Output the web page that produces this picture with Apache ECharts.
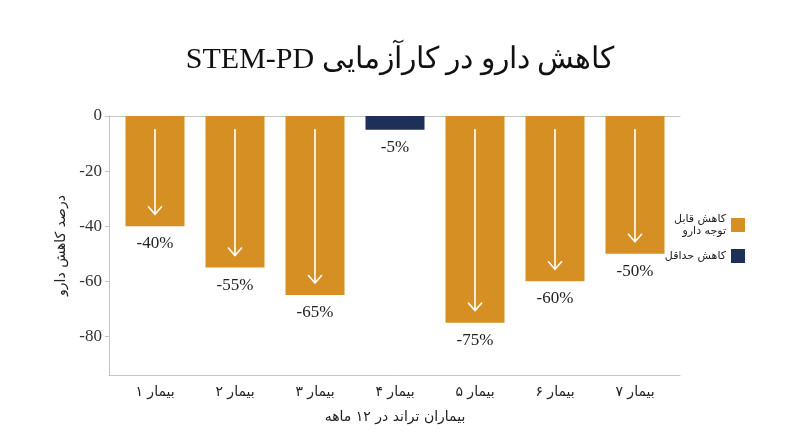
<!DOCTYPE html>
<html>
<head>
<meta charset="utf-8">
<script src="https://cdn.jsdelivr.net/npm/echarts@6/dist/echarts.min.js"></script>
<style>
  html, body { margin: 0; padding: 0; background: #fff; }
  #chart { width: 800px; height: 447px; }
</style>
</head>
<body>
<div id="chart"></div>
<script>
(function () {
    var categories = ['بیمار ۱', 'بیمار ۲', 'بیمار ۳', 'بیمار ۴', 'بیمار ۵', 'بیمار ۶', 'بیمار ۷'];
    // کاهش قابل توجه دارو
    var majorValues = [-40, -55, -65, '-', -75, -60, -50];
    // کاهش حداقل
    var minorValues = ['-', '-', '-', -5, '-', '-', '-'];
    var yTicks = [0, -20, -40, -60, -80];

    var majorName = 'کاهش قابل توجه دارو';
    var minorName = 'کاهش حداقل';
    var orange = '#D68F23';
    var navy = '#1D3158';
    var serif = "'Liberation Serif', 'DejaVu Serif', serif";
    var sans = "'DejaVu Sans', sans-serif";

    var chart = echarts.init(document.getElementById('chart'));

    // arrows inside the orange bars
    var arrowData = [];
    for (var i = 0; i < majorValues.length; i++) {
        if (majorValues[i] !== '-') {
            arrowData.push([i, majorValues[i]]);
        }
    }

    var barLabel = {
        show: true,
        position: 'bottom',
        distance: 9,
        formatter: '{c}%',
        fontFamily: serif,
        fontSize: 17,
        color: '#222'
    };

    var frameLine = { show: true, onZero: false, lineStyle: { color: '#c4c4c4', width: 1 } };

    var option = {
        backgroundColor: '#fff',
        animation: false,

        title: {
            text: '\u202B' + 'کاهش دارو در کارآزمایی STEM-PD' + '\u202C',
            left: 'center',
            top: 40,
            textStyle: {
                fontFamily: serif,
                fontSize: 30,
                fontWeight: 'normal',
                color: '#111'
            }
        },

        legend: {
            orient: 'vertical',
            right: 50,
            top: 208,
            align: 'right',
            icon: 'rect',
            itemWidth: 14,
            itemHeight: 14,
            itemGap: 12,
            data: [majorName, minorName],
            formatter: function (name) {
                return name === majorName ? 'کاهش قابل\nتوجه دارو' : name;
            },
            textStyle: {
                fontFamily: sans,
                fontSize: 11,
                lineHeight: 12,
                color: '#222'
            }
        },

        grid: [
            { left: 115, right: 125, top: 116, bottom: 72 },
            { left: 109, right: 120, top: 116, bottom: 72 }
        ],

        xAxis: [
            {
                type: 'category',
                gridIndex: 0,
                data: categories,
                axisLine: { show: false },
                axisTick: { show: false },
                axisLabel: {
                    margin: 10,
                    fontFamily: sans,
                    fontSize: 14,
                    color: '#222'
                },
                name: 'بیماران تراند در ۱۲ ماهه',
                nameLocation: 'middle',
                nameGap: 35,
                nameTextStyle: {
                    fontFamily: sans,
                    fontSize: 14,
                    color: '#222'
                }
            },
            {
                type: 'value',
                gridIndex: 1,
                position: 'bottom',
                min: 0,
                max: 1,
                axisLine: frameLine,
                axisTick: { show: false },
                axisLabel: { show: false },
                splitLine: { show: false }
            },
            {
                type: 'value',
                gridIndex: 1,
                position: 'top',
                min: 0,
                max: 1,
                axisLine: frameLine,
                axisTick: { show: false },
                axisLabel: { show: false },
                splitLine: { show: false }
            }
        ],

        yAxis: [
            {
                type: 'value',
                gridIndex: 0,
                min: -94,
                max: 0,
                show: false
            },
            {
                type: 'value',
                gridIndex: 1,
                min: -94,
                max: 0,
                axisLine: frameLine,
                axisTick: {
                    show: true,
                    length: 4,
                    customValues: yTicks,
                    lineStyle: { color: '#c4c4c4' }
                },
                axisLabel: {
                    customValues: yTicks,
                    margin: 7,
                    fontFamily: serif,
                    fontSize: 17,
                    color: '#333'
                },
                splitLine: { show: false },
                name: 'درصد کاهش دارو',
                nameLocation: 'middle',
                nameGap: 37,
                nameTextStyle: {
                    fontFamily: sans,
                    fontSize: 14,
                    color: '#222'
                }
            }
        ],

        series: [
            {
                name: majorName,
                type: 'bar',
                xAxisIndex: 0,
                yAxisIndex: 0,
                barWidth: 59,
                data: majorValues,
                itemStyle: { color: orange },
                label: barLabel
            },
            {
                name: minorName,
                type: 'bar',
                xAxisIndex: 0,
                yAxisIndex: 0,
                barWidth: 59,
                barGap: '-100%',
                data: minorValues,
                itemStyle: { color: navy },
                label: barLabel
            },
            {
                type: 'custom',
                xAxisIndex: 0,
                yAxisIndex: 0,
                z: 5,
                silent: true,
                data: arrowData,
                renderItem: function (params, api) {
                    var top = api.coord([api.value(0), 0]);
                    var end = api.coord([api.value(0), api.value(1)]);
                    var x = top[0];
                    var y0 = top[1] + 13;
                    var y1 = end[1] - 12;
                    var style = { stroke: '#fff', lineWidth: 1.6, fill: null };
                    return {
                        type: 'group',
                        children: [
                            { type: 'line', shape: { x1: x, y1: y0, x2: x, y2: y1 }, style: style },
                            {
                                type: 'polyline',
                                shape: { points: [[x - 7, y1 - 8], [x, y1], [x + 7, y1 - 8]] },
                                style: style
                            }
                        ]
                    };
                }
            }
        ]
    };

    chart.setOption(option);
})();
</script>
</body>
</html>
